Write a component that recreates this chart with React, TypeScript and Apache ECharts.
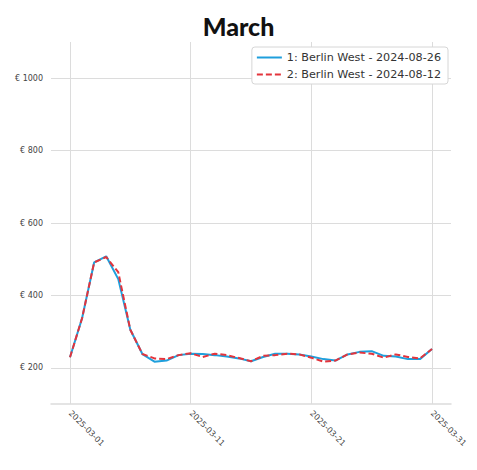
import React, { useEffect, useRef } from "react";
import * as echarts from "echarts";

const dates: string[] = [
  "2025-03-01","2025-03-02","2025-03-03","2025-03-04","2025-03-05","2025-03-06","2025-03-07","2025-03-08",
  "2025-03-09","2025-03-10","2025-03-11","2025-03-12","2025-03-13","2025-03-14","2025-03-15","2025-03-16",
  "2025-03-17","2025-03-18","2025-03-19","2025-03-20","2025-03-21","2025-03-22","2025-03-23","2025-03-24",
  "2025-03-25","2025-03-26","2025-03-27","2025-03-28","2025-03-29","2025-03-30","2025-03-31",
];
const series1Name = "1: Berlin West - 2024-08-26";
const series2Name = "2: Berlin West - 2024-08-12";
const series1: number[] = [229, 337, 491, 508, 445, 305, 238, 217, 220, 235, 239, 238, 235, 231, 226, 218, 230, 239, 239, 237, 231, 224, 220, 237, 244, 246, 233, 231, 224, 224, 252];
const series2: number[] = [229, 337, 491, 506, 464, 305, 238, 226, 224, 235, 240, 230, 239, 235, 227, 218, 233, 235, 239, 237, 228, 217, 220, 237, 242, 239, 228, 237, 230, 226, 252];
const xTickIdx: number[] = [0, 10, 20, 30];
const yTicks: number[] = [200, 400, 600, 800, 1000];

export default function App() {
  const ref = useRef<HTMLDivElement>(null);
  useEffect(() => {
    if (!ref.current) return;
    const chart = echarts.init(ref.current, undefined, { renderer: "svg" });
    const font = "DejaVu Sans";
    chart.setOption({
      animation: false,
      backgroundColor: "#ffffff",
      title: {
        text: "March",
        left: "center",
        top: 8,
        textStyle: { fontFamily: "Lato", fontWeight: 900, fontSize: 25, color: "#111" },
      },
      legend: {
        orient: "vertical",
        right: 29,
        top: 47,
        padding: [5, 7, 4, 4],
        itemWidth: 25,
        itemHeight: 12,
        itemGap: 6,
        backgroundColor: "#ffffff",
        borderColor: "#d6d6d6",
        borderWidth: 1,
        borderRadius: 3,
        itemStyle: { color: "rgba(0,0,0,0)", borderWidth: 0 },
        textStyle: { fontFamily: font, fontSize: 11.2, color: "#333" },
        data: [series1Name, series2Name],
      },
      grid: { left: 51, right: 26, top: 42, bottom: 66, containLabel: false },
      xAxis: {
        type: "value",
        min: -1.575,
        max: 31.575,
        axisLine: { show: true, lineStyle: { color: "#dcdcdc", width: 1.5 } },
        axisTick: { show: false, customValues: xTickIdx },
        splitLine: { show: true, lineStyle: { color: "#dcdcdc", width: 1 } },
        axisLabel: {
          customValues: xTickIdx,
          rotate: -45,
          margin: 8,
          fontFamily: font,
          fontSize: 8,
          color: "#444",
          formatter: (v: number) => dates[Math.round(v)] ?? "",
        },
      },
      yAxis: {
        type: "value",
        min: 100,
        max: 1100,
        axisLine: { show: false },
        axisTick: { show: false, customValues: yTicks },
        splitLine: { show: true, lineStyle: { color: "#dcdcdc", width: 1 } },
        axisLabel: {
          customValues: yTicks,
          margin: 8,
          fontFamily: font,
          fontSize: 8,
          color: "#444",
          formatter: (v: number) => "€ " + v,
        },
      },
      series: [
        {
          name: series1Name,
          type: "line",
          symbol: "none",
          data: series1.map((v, i) => [i, v]),
          lineStyle: { color: "#1f9fdc", width: 2 },
          itemStyle: { color: "#1f9fdc" },
          z: 2,
        },
        {
          name: series2Name,
          type: "line",
          symbol: "none",
          data: series2.map((v, i) => [i, v]),
          lineStyle: { color: "#e3343c", width: 2, type: [6, 3] },
          itemStyle: { color: "#e3343c" },
          z: 3,
        },
      ],
    });
    return () => chart.dispose();
  }, []);
  return <div ref={ref} style={{ width: 477, height: 470, position: "absolute", left: 0, top: 0 }} />;
}
